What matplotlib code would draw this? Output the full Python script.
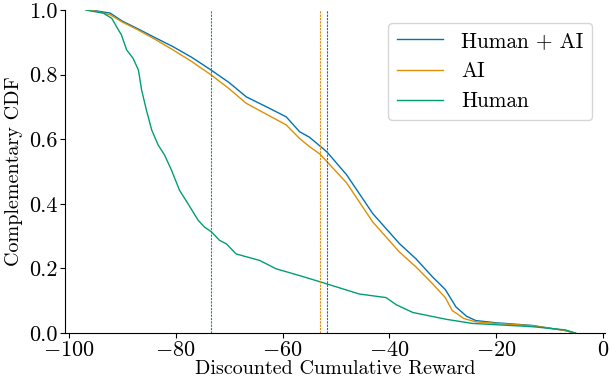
import matplotlib
matplotlib.use("Agg")
import matplotlib.pyplot as plt

# colours (seaborn colorblind)
BLUE = "#0173b2"
ORANGE = "#de8f05"
GREEN = "#029e73"

labels = ["Human + AI", "AI", "Human"]

# points
human_ai_x = [-96.8, -96.1, -92.3, -90.0, -87.3, -84.0, -80.5, -77.0, -73.4, -70.0,
              -66.8, -63.0, -59.3, -56.8, -54.95, -51.7, -48.0, -43.1, -38.1, -35.0,
              -31.9, -29.5, -27.5, -25.5, -23.8, -20.0, -13.3, -7.0, -5.1]
human_ai_y = [1.0, 1.0, 0.99, 0.965, 0.943, 0.915, 0.886, 0.853, 0.814, 0.775,
              0.731, 0.700, 0.669, 0.623, 0.606, 0.561, 0.490, 0.370, 0.277, 0.230,
              0.174, 0.135, 0.081, 0.052, 0.039, 0.032, 0.024, 0.008, 0.0]

ai_x = [-96.8, -96.1, -92.3, -90.0, -87.3, -84.0, -80.5, -77.0, -73.4, -70.0,
        -66.8, -63.0, -59.3, -56.8, -54.95, -53.0, -48.0, -43.1, -38.1, -35.0,
        -31.9, -29.5, -28.2, -26.0, -23.8, -20.0, -13.3, -7.0, -5.1]
ai_y = [1.0, 1.0, 0.985, 0.962, 0.940, 0.910, 0.876, 0.840, 0.799, 0.756,
        0.711, 0.677, 0.644, 0.602, 0.577, 0.554, 0.465, 0.344, 0.251, 0.205,
        0.153, 0.110, 0.070, 0.045, 0.035, 0.030, 0.023, 0.008, 0.0]

human_x = [-96.8, -96.1, -93.6, -92.0, -91.1, -90.2, -89.2, -88.0, -87.0, -86.4,
           -85.5, -84.5, -83.3, -82.1, -80.8, -79.3, -77.7, -75.8, -74.6, -73.3,
           -71.8, -70.5, -68.7, -64.3, -61.2, -56.8, -53.0, -45.6, -40.6, -38.7,
           -35.6, -29.4, -24.4, -13.2, -7.0, -5.1]
human_y = [1.0, 0.997, 0.990, 0.974, 0.948, 0.923, 0.876, 0.850, 0.814, 0.752,
           0.690, 0.628, 0.582, 0.551, 0.504, 0.442, 0.400, 0.349, 0.328, 0.313,
           0.287, 0.276, 0.245, 0.225, 0.199, 0.178, 0.159, 0.121, 0.110, 0.088,
           0.064, 0.043, 0.030, 0.020, 0.010, 0.0]

# mean reward per group (dashed lines)
means = [-51.7, -52.95, -73.4]


def main():
    plt.rcParams["font.family"] = "serif"
    plt.rcParams["font.serif"] = ["cmr10"]
    plt.rcParams["mathtext.fontset"] = "cm"
    plt.rcParams["axes.formatter.use_mathtext"] = True

    fig = plt.figure(figsize=(6.1, 3.79), dpi=100)
    ax = fig.add_axes([0.1066, 0.121, 0.885, 0.853])

    colors = [BLUE, ORANGE, GREEN]
    series = [(human_ai_x, human_ai_y), (ai_x, ai_y), (human_x, human_y)]
    for (xs, ys), c, lab in zip(series, colors, labels):
        ax.plot(xs, ys, color=c, lw=1.0, label=lab)
    for m, c in zip(means, colors):
        ax.axvline(m, color=c, lw=0.8, ls="--", dashes=(2, 1))

    ax.set_xlim(-100.75, 0.4)
    ax.set_ylim(0, 1)
    ax.set_xticks([-100, -80, -60, -40, -20, 0])
    ax.set_yticks([0.0, 0.2, 0.4, 0.6, 0.8, 1.0])
    ax.set_yticklabels(["0.0", "0.2", "0.4", "0.6", "0.8", "1.0"])
    ax.tick_params(labelsize=16, length=3.5, width=0.8, pad=2)
    ax.spines["top"].set_visible(False)
    ax.spines["right"].set_visible(False)
    ax.set_xlabel("Discounted Cumulative Reward", fontsize=14.5, labelpad=0)
    ax.set_ylabel("Complementary CDF", fontsize=14.5, labelpad=4)

    ax.legend(loc="upper right", fontsize=15.4, handlelength=2.15,
              handletextpad=0.85, borderaxespad=0.6, framealpha=0.8)

    fig.savefig("out.png", dpi=100)


if __name__ == "__main__":
    main()
